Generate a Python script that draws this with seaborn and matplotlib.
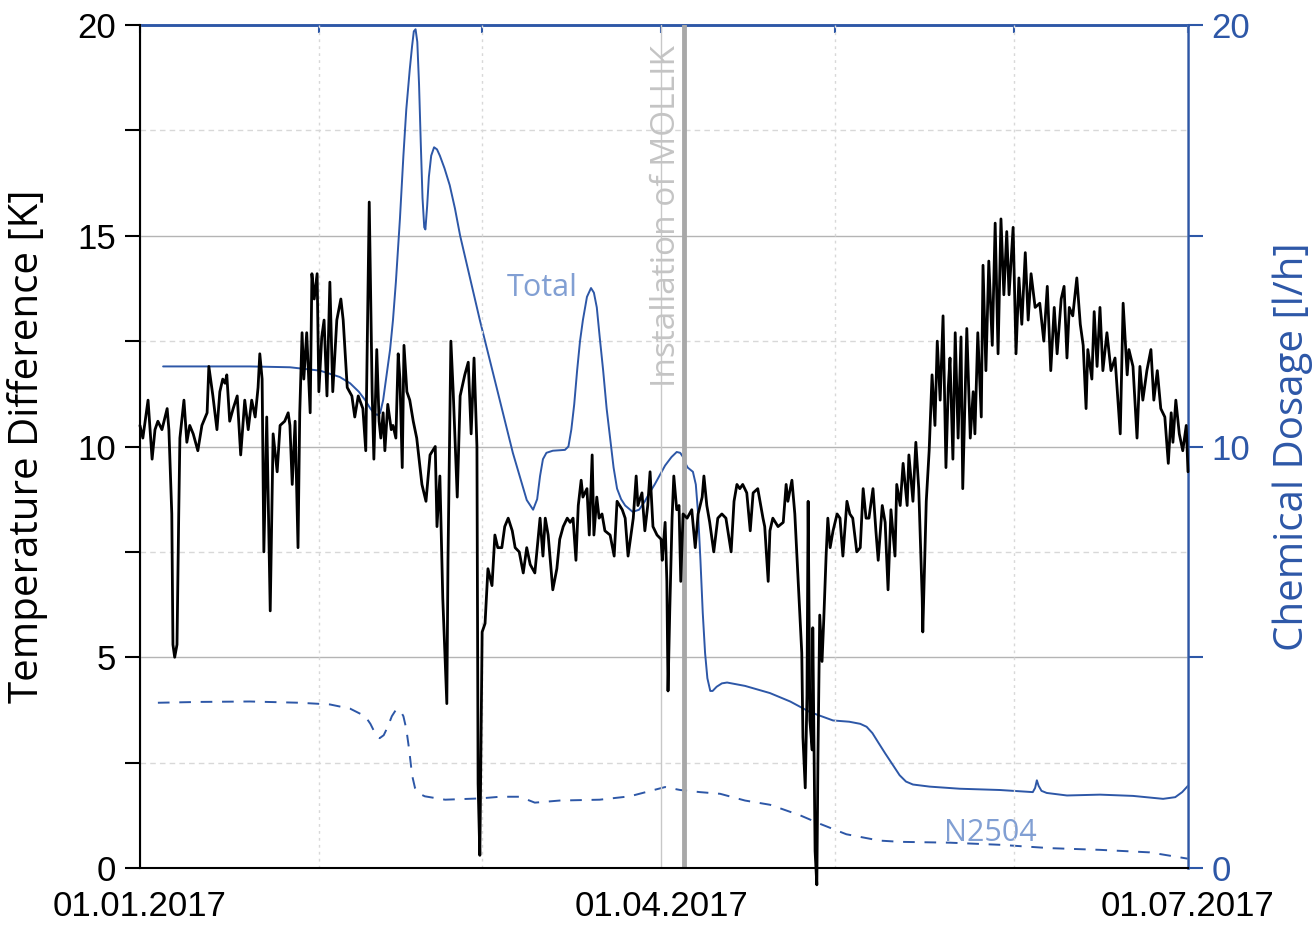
import pandas as pd
import matplotlib.pyplot as plt
import matplotlib.dates as mdates
from matplotlib.ticker import MultipleLocator, NullFormatter
import seaborn as sns

sns.set_style('white')
plt.rcParams['font.family'] = ['Liberation Sans', 'DejaVu Sans']
plt.rcParams['text.color'] = 'black'
plt.rcParams['axes.labelcolor'] = 'black'
plt.rcParams['xtick.color'] = 'black'
plt.rcParams['ytick.color'] = 'black'

start = pd.Timestamp('2017-01-01')
end = pd.Timestamp('2017-07-01')
mollik_day = 94.0

# temperature difference [K], days counted from 01.01.2017
temp_days = [0.0, 0.5, 1.4, 2.1, 2.6, 3.1, 3.8, 4.7, 5.0, 5.5,
             5.7, 6.0, 6.4, 6.7, 6.9, 7.6, 8.1, 8.6, 9.2, 10.0,
             10.7, 11.6, 11.9, 12.6, 13.3, 13.8, 14.3, 14.7, 15.0, 15.5,
             16.1, 16.8, 17.4, 18.1, 18.7, 19.3, 19.9, 20.4, 20.7, 21.1,
             21.4, 21.9, 22.5, 23.0, 23.7, 24.2, 25.0, 25.6, 25.9, 26.3,
             26.8, 27.3, 27.6, 28.0, 28.3, 28.8, 29.4, 29.7, 30.1, 30.6,
             30.9, 31.4, 31.8, 32.3, 32.8, 33.3, 34.0, 34.7, 35.1, 35.8,
             36.6, 37.1, 37.7, 38.5, 39.0, 39.6, 40.1, 40.4, 40.9, 41.3,
             41.6, 42.0, 42.3, 42.8, 43.4, 43.7, 44.2, 44.6, 44.9, 45.3,
             45.6, 46.1, 46.6, 47.2, 47.8, 48.7, 49.4, 50.1, 51.0, 51.3,
             51.8, 52.3, 53.0, 53.2, 53.7, 54.1, 54.8, 55.3, 56.1, 56.7,
             57.2, 57.7, 58.2, 58.4, 58.7, 59.1, 59.6, 60.1, 60.8, 61.3,
             61.8, 62.5, 63.0, 63.6, 64.3, 64.8, 65.5, 66.2, 66.8, 67.4,
             68.2, 69.1, 69.6, 70.0, 70.5, 71.3, 72.0, 72.5, 73.1, 73.8,
             74.3, 74.8, 75.3, 75.7, 76.2, 76.5, 77.2, 77.6, 78.1, 78.4,
             78.9, 79.3, 79.8, 80.3, 81.2, 81.9, 82.4, 83.3, 83.8, 84.3,
             85.2, 85.7, 86.0, 86.7, 87.2, 87.7, 88.1, 88.6, 89.3, 90.0,
             90.2, 90.7, 91.0, 91.2, 91.5, 91.9, 92.2, 92.7, 93.1, 93.4,
             93.8, 94.5, 95.3, 95.9, 96.4, 97.1, 97.4, 97.9, 98.4, 99.1,
             99.8, 100.5, 101.2, 102.1, 102.6, 103.1, 103.6, 104.1, 104.8, 105.4,
             105.9, 106.7, 107.6, 107.9, 108.5, 108.8, 109.3, 110.2, 111.1, 111.6,
             111.9, 112.6, 113.1, 113.8, 114.3, 114.5, 114.9, 115.2, 115.4, 115.7,
             116.1, 116.2, 116.6, 116.9, 117.1, 117.4, 117.8, 118.1, 118.5, 118.8,
             119.2, 119.7, 120.4, 120.9, 121.4, 122.1, 122.6, 123.1, 123.8, 124.4,
             124.9, 125.4, 125.9, 126.6, 127.1, 127.5, 128.2, 128.7, 129.2, 129.7,
             130.4, 130.7, 131.3, 131.8, 132.5, 132.8, 133.5, 134.0, 134.5, 135.1,
             135.2, 135.8, 136.3, 136.8, 137.3, 137.7, 138.2, 138.7, 139.2, 139.6,
             139.9, 140.4, 140.8, 141.3, 141.8, 142.1, 142.8, 143.4, 143.9, 144.2,
             144.7, 145.3, 145.6, 146.1, 146.6, 147.2, 147.7, 148.2, 148.7, 149.2,
             149.7, 150.1, 150.8, 151.3, 151.8, 152.3, 152.9, 153.4, 153.9, 154.6,
             155.4, 156.1, 156.7, 157.3, 157.9, 158.4, 159.1, 159.6, 160.1, 160.5,
             161.1, 161.8, 162.4, 162.9, 163.4, 163.7, 164.4, 164.8, 165.3, 165.8,
             166.3, 167.0, 167.7, 168.4, 169.3, 169.8, 170.5, 170.8, 171.5, 172.2,
             172.7, 173.2, 173.9, 174.6, 175.1, 175.7, 176.3, 177.0, 177.6, 178.1,
             178.4, 178.9, 179.5, 180.1, 180.7, 181.0]
temp_vals = [10.5, 10.2, 11.1, 9.7, 10.4, 10.6, 10.4, 10.9, 10.4, 8.4,
             5.3, 5.0, 5.3, 8.4, 10.2, 11.1, 10.1, 10.5, 10.3, 9.9,
             10.5, 10.8, 11.9, 11.2, 10.4, 11.3, 11.6, 11.5, 11.7, 10.6,
             10.9, 11.2, 9.8, 11.1, 10.4, 11.1, 10.7, 11.4, 12.2, 11.6,
             7.5, 10.7, 6.1, 10.3, 9.4, 10.5, 10.6, 10.8, 10.5, 9.1,
             10.6, 7.6, 10.8, 12.7, 11.6, 12.7, 10.8, 14.1, 13.5, 14.1,
             11.3, 12.6, 13.0, 11.2, 13.9, 11.3, 13.0, 13.5, 13.0, 11.4,
             11.2, 10.7, 11.2, 10.9, 9.9, 15.8, 11.3, 9.7, 12.3, 10.6,
             10.2, 10.8, 9.9, 11.0, 10.4, 10.5, 10.2, 12.2, 11.6, 9.5,
             12.4, 11.3, 11.1, 10.6, 10.2, 9.1, 8.7, 9.8, 10.0, 8.1,
             9.3, 6.4, 3.9, 7.3, 12.5, 11.3, 8.8, 11.2, 11.7, 12.0,
             10.3, 12.1, 10.0, 2.0, 0.3, 5.6, 5.8, 7.1, 6.7, 7.9,
             7.6, 7.6, 8.1, 8.3, 8.0, 7.6, 7.5, 7.0, 7.6, 7.2,
             7.0, 8.3, 7.4, 8.3, 7.9, 6.6, 7.1, 7.8, 8.1, 8.3,
             8.2, 8.3, 7.3, 8.6, 9.2, 8.8, 9.0, 7.9, 9.8, 7.9,
             8.8, 8.3, 8.4, 8.0, 7.9, 7.4, 8.7, 8.5, 8.3, 7.4,
             8.3, 9.3, 8.6, 8.9, 8.0, 8.6, 9.4, 8.1, 7.9, 7.8,
             7.3, 8.2, 6.8, 4.2, 6.1, 8.3, 9.3, 8.5, 8.6, 6.8,
             8.4, 8.3, 8.5, 7.6, 8.4, 8.8, 9.3, 8.6, 8.2, 7.5,
             8.3, 8.4, 8.3, 7.5, 8.7, 9.1, 9.0, 9.1, 8.9, 8.0,
             8.9, 9.0, 8.3, 8.1, 6.8, 8.0, 8.3, 8.1, 8.2, 9.1,
             8.7, 9.2, 8.4, 6.5, 5.1, 3.1, 1.9, 4.1, 8.7, 3.5,
             2.8, 5.7, 0.4, -0.4, 2.7, 6.0, 4.9, 5.9, 7.4, 8.3,
             7.6, 8.0, 8.4, 8.3, 7.4, 8.7, 8.4, 8.3, 7.5, 7.6,
             9.0, 8.3, 8.3, 9.0, 8.0, 7.3, 8.6, 8.2, 6.6, 8.5,
             7.4, 9.1, 8.6, 9.6, 8.6, 9.8, 8.7, 10.1, 9.0, 6.4,
             5.6, 8.7, 9.9, 11.7, 10.5, 12.5, 11.1, 13.1, 9.5, 11.4,
             12.1, 9.7, 12.7, 10.2, 12.6, 9.0, 12.8, 10.2, 11.3, 10.3,
             12.7, 10.7, 14.3, 11.8, 14.4, 12.4, 15.3, 12.2, 15.4, 13.6,
             15.1, 13.6, 15.2, 12.2, 14.0, 12.9, 14.6, 13.0, 14.1, 13.3,
             13.4, 12.5, 13.8, 11.8, 13.3, 12.2, 13.5, 13.8, 12.1, 13.3,
             13.1, 14.0, 12.9, 12.4, 10.9, 12.3, 11.6, 13.2, 11.9, 13.3,
             11.8, 12.7, 11.8, 12.1, 10.3, 13.4, 11.7, 12.3, 11.9, 10.2,
             11.9, 11.1, 11.8, 12.3, 11.1, 11.8, 10.9, 10.7, 9.6, 10.8,
             10.1, 11.1, 10.3, 9.9, 10.5, 9.4]

# chemical dosage [l/h]
total_days = [4.0, 10.4, 19.0, 25.9, 31.1, 34.5, 36.3, 37.8, 38.9, 39.8,
              40.5, 41.0, 41.5, 42.0, 42.6, 43.2, 43.7, 44.2, 44.9, 45.5,
              46.0, 46.6, 47.0, 47.3, 47.6, 47.9, 48.2, 48.5, 48.8, 49.1,
              49.3, 49.6, 49.9, 50.3, 50.8, 51.3, 51.8, 52.6, 53.5, 54.4,
              55.3, 58.7, 61.6, 64.4, 66.8, 67.9, 68.6, 69.1, 69.6, 70.2,
              71.3, 73.4, 74.0, 74.5, 75.0, 75.5, 76.0, 76.5, 77.2, 77.9,
              78.4, 78.9, 79.4, 80.0, 80.6, 81.2, 81.8, 82.4, 83.1, 83.8,
              85.1, 86.2, 87.2, 88.0, 88.9, 90.7, 91.8, 92.7, 93.3, 93.8,
              94.2, 94.6, 95.5, 96.0, 96.4, 96.8, 97.2, 97.6, 98.0, 98.5,
              98.9, 99.6, 100.5, 101.4, 104.5, 108.8, 112.3, 115.7, 119.7, 122.5,
              124.4, 125.5, 126.5, 127.5, 128.7, 130.0, 131.2, 132.3, 133.5, 136.4,
              141.6, 148.5, 154.2, 154.6, 154.9, 155.2, 155.7, 156.6, 160.1, 165.8,
              171.5, 176.7, 178.8, 180.0, 181.0]
total_vals = [11.9, 11.9, 11.9, 11.88, 11.8, 11.65, 11.5, 11.3, 11.1, 10.9,
              10.78, 10.75, 10.8, 11.1, 11.7, 12.3, 13.0, 13.9, 15.4, 16.9,
              18.0, 18.95, 19.5, 19.85, 19.9, 19.6, 18.6, 17.2, 15.9, 15.2,
              15.15, 15.7, 16.4, 16.9, 17.1, 17.05, 16.9, 16.6, 16.2, 15.65,
              15.0, 13.0, 11.4, 9.85, 8.73, 8.5, 8.75, 9.3, 9.7, 9.85,
              9.9, 9.92, 10.0, 10.4, 11.0, 11.8, 12.5, 13.0, 13.55, 13.76,
              13.65, 13.3, 12.6, 11.8, 10.9, 10.2, 9.5, 9.0, 8.75, 8.6,
              8.45, 8.5, 8.7, 8.9, 9.1, 9.55, 9.75, 9.87, 9.85, 9.75,
              9.6, 9.5, 9.4, 9.1, 8.4, 7.3, 6.05, 5.1, 4.5, 4.2,
              4.2, 4.3, 4.38, 4.4, 4.32, 4.15, 3.95, 3.7, 3.5, 3.47,
              3.42, 3.35, 3.2, 2.98, 2.72, 2.45, 2.2, 2.05, 1.98, 1.93,
              1.88, 1.85, 1.8, 1.9, 2.08, 1.95, 1.83, 1.78, 1.72, 1.74,
              1.71, 1.64, 1.68, 1.8, 1.95]

n2504_days = [3.1, 10.4, 19.0, 27.6, 32.8, 36.3, 38.9, 39.8, 40.6, 41.4,
              42.1, 42.8, 43.5, 44.2, 44.9, 45.5, 46.0, 46.5, 47.0, 47.5,
              48.3, 49.2, 52.7, 58.7, 62.2, 65.6, 68.2, 72.5, 79.4, 84.6,
              90.7, 93.3, 96.7, 100.2, 104.5, 108.8, 114.0, 117.4, 122.0, 127.7,
              131.3, 139.9, 148.5, 157.2, 165.8, 174.4, 181.0]
n2504_vals = [3.92, 3.94, 3.95, 3.92, 3.88, 3.78, 3.6, 3.42, 3.2, 3.08,
              3.15, 3.35, 3.6, 3.75, 3.75, 3.6, 3.3, 2.8, 2.2, 1.9,
              1.76, 1.7, 1.62, 1.65, 1.69, 1.69, 1.55, 1.6, 1.62, 1.7,
              1.92, 1.85, 1.8, 1.76, 1.6, 1.5, 1.25, 1.05, 0.8, 0.65,
              0.62, 0.6, 0.55, 0.47, 0.43, 0.37, 0.22]

blue = '#2d57a7'
label_blue = '#819fd3'


def to_dates(days):
    return start + pd.to_timedelta(days, unit='D')


fig, ax = plt.subplots(figsize=(13.14, 9.31), dpi=100)
fig.subplots_adjust(left=0.1065, right=0.9041, top=0.9731, bottom=0.0677)
ax2 = ax.twinx()
ax.set_zorder(ax2.get_zorder() + 1)
ax.patch.set_visible(False)

sns.lineplot(x=to_dates(total_days), y=total_vals, ax=ax2, color=blue,
             lw=1.4, estimator=None)
sns.lineplot(x=to_dates(n2504_days), y=n2504_vals, ax=ax2, color=blue,
             lw=1.4, linestyle=(0, (6, 5)), estimator=None)
sns.lineplot(x=to_dates(temp_days), y=temp_vals, ax=ax, color='black',
             lw=2.0, estimator=None, clip_on=False, zorder=3)

ax.axvline(to_dates([mollik_day])[0], color='#a8a8a8', lw=3.5, zorder=2)
ax.text(to_dates([91.0])[0], 19.52, 'Installation of MOLLIK', rotation=90,
        ha='center', va='top', color='#c4c4c4', fontsize=24, family='Open Sans')
ax2.text(to_dates([69.4])[0], 13.57, 'Total', ha='center', va='baseline',
         color=label_blue, fontsize=22, family='Open Sans')
ax2.text(to_dates([146.8])[0], 0.64, 'N2504', ha='center', va='baseline',
         color=label_blue, fontsize=22, family='Open Sans')

# axes ranges and ticks
ax.set_xlim(start, end)
ax.set_ylim(0, 20)
ax2.set_ylim(0, 20)
ax.xaxis.set_major_locator(mdates.MonthLocator(bymonth=[1, 4, 7]))
ax.xaxis.set_minor_locator(mdates.MonthLocator())
ax.xaxis.set_major_formatter(mdates.DateFormatter('%d.%m.%Y'))
ax.yaxis.set_major_locator(MultipleLocator(5))
ax.yaxis.set_minor_locator(MultipleLocator(2.5))
ax2.set_yticks([0, 5, 10, 15, 20])
ax2.set_yticklabels(['0', '', '10', '', '20'])
ax2.yaxis.set_minor_locator(MultipleLocator(2.5))

ax.tick_params(axis='x', which='major', direction='out', length=11, width=1.5,
               labelsize=25, pad=5, top=False, colors='black')
ax.tick_params(axis='x', which='minor', direction='out', length=6, width=1.5,
               top=False, colors='black')
ax.tick_params(axis='y', which='both', direction='out', length=11, width=1.5,
               labelsize=25, pad=6, right=False, colors='black')
ax2.tick_params(axis='y', which='major', direction='out', length=11, width=1.5,
                colors=blue, labelsize=25, pad=6)
ax2.tick_params(axis='y', which='minor', length=0)

top = ax.secondary_xaxis('top')
top.xaxis.set_major_locator(mdates.MonthLocator())
top.xaxis.set_major_formatter(NullFormatter())
top.tick_params(axis='x', direction='in', length=6, width=1.5, colors=blue)
top.spines['top'].set_color(blue)
top.spines['top'].set_linewidth(1.8)

# grid
ax.grid(axis='x', which='major', color='#c8c8c8', lw=1)
ax.grid(axis='x', which='minor', color='#d8d8d8', lw=1, ls=(0, (2, 3)))
ax2.grid(axis='y', which='major', color='#b4b4b4', lw=1)
ax2.grid(axis='y', which='minor', color='#d8d8d8', lw=1, ls=(0, (4, 3)))
ax2.set_axisbelow(True)

# spines
for side in ['top', 'right']:
    ax.spines[side].set_visible(False)
for side in ['left', 'bottom']:
    ax2.spines[side].set_visible(False)
    ax.spines[side].set_color('black')
    ax.spines[side].set_linewidth(1.5)
for side in ['top', 'right']:
    ax2.spines[side].set_color(blue)
    ax2.spines[side].set_linewidth(1.8)

ax.set_xlabel('')
ax.set_ylabel('Temperature Difference [K]', fontsize=29, family='Open Sans')
ax.yaxis.set_label_coords(-0.0878, 0.5)
ax2.set_ylabel('Chemical Dosage [l/h]', fontsize=29, family='Open Sans', color=blue)
ax2.yaxis.set_label_coords(1.081, 0.5)

fig.savefig('out.png', dpi=100)
